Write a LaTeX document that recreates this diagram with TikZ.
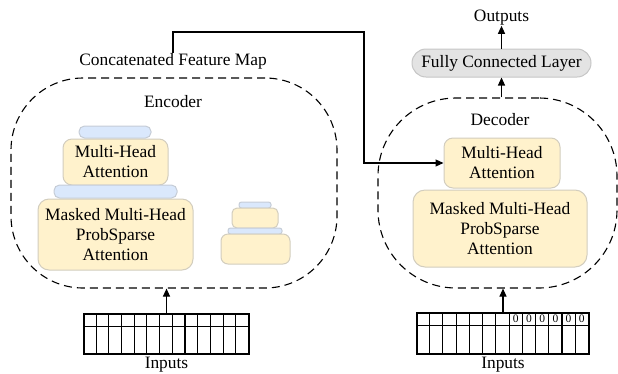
\documentclass[tikz,border=0pt]{standalone}
\usepackage{fontspec}
\setmainfont{Liberation Serif}
\usetikzlibrary{arrows.meta,calc}

\definecolor{attnfill}{HTML}{FFF2CC}
\definecolor{attnline}{HTML}{D2CDBE}
\definecolor{normfill}{HTML}{DAE8FC}
\definecolor{normline}{HTML}{C5CCD6}
\definecolor{fcfill}{HTML}{E3E3E3}
\definecolor{fcline}{HTML}{C6C6C6}

\tikzset{
  every node/.style={font=\fontsize{17.4}{20}\selectfont, inner sep=0pt},
  attnbox/.style={draw=attnline, fill=attnfill, line width=1pt, rounded corners=9pt, align=center},
  normpill/.style={draw=normline, fill=normfill, line width=1pt, rounded corners=5.5pt},
  fcbox/.style={draw=fcline, fill=fcfill, line width=1pt, rounded corners=14pt},
  blockoutline/.style={draw=black, line width=1.1pt, dash pattern=on 8pt off 5pt},
  gridbox/.style={draw=black, line width=1.1pt},
  flow/.style={draw=black, line width=1.1pt, -{Triangle[length=8pt,width=7pt]}},
  zero/.style={font=\fontsize{11.5}{11.5}\selectfont},
}

\begin{document}
\begin{tikzpicture}[x=1pt,y=-1pt]
\useasboundingbox (0,0) rectangle (618,373);

% dashed outlines of the two blocks
\node[blockoutline, rounded corners=72pt, minimum width=326pt, minimum height=210pt] (enc) at (174,183) {};
\node[blockoutline, rounded corners=78pt, minimum width=239pt, minimum height=190pt] (dec) at (497.5,193) {};

\node (enclabel) at (173,102) {Encoder};
\node (declabel) at (500,120) {Decoder};

% encoder stack
\node[normpill, minimum width=72pt, minimum height=12pt] (ep1) at (115,132) {};
\node[attnbox, minimum width=105pt, minimum height=46pt] (emha) at (115.5,162) {Multi-Head\\Attention};
\node[normpill, minimum width=123pt, minimum height=13pt] (ep2) at (115.5,191.5) {};
\node[attnbox, rounded corners=11pt, minimum width=155pt, minimum height=71pt] (emask) at (115.5,234.5) {Masked Multi-Head\\ProbSparse\\Attention};

% second, smaller encoder stack
\node[normpill, rounded corners=2.5pt, minimum width=32pt, minimum height=6pt] (sp1) at (255,205) {};
\node[attnbox, rounded corners=5pt, minimum width=46pt, minimum height=20pt] (sb1) at (255,218) {};
\node[normpill, rounded corners=2.5pt, minimum width=54pt, minimum height=6pt] (sp2) at (255,231) {};
\node[attnbox, rounded corners=7pt, minimum width=69pt, minimum height=30pt] (sb2) at (255.5,249) {};

% decoder stack
\node[attnbox, minimum width=116pt, minimum height=50pt] (dmha) at (502,163) {Multi-Head\\Attention};
\node[attnbox, rounded corners=12pt, minimum width=174pt, minimum height=77pt] (dmask) at (500,228.5) {Masked Multi-Head\\ProbSparse\\Attention};

% output head
\node[fcbox, minimum width=179pt, minimum height=28pt] (fc) at (501.5,63) {Fully Connected Layer};
\node (out) at (501.5,18) {Outputs};

% encoder input grid
\node[gridbox, minimum width=165pt, minimum height=40pt] (egrid) at (166.5,334) {};
\draw[line width=1.1pt] ($(egrid.north west)+(0,13)$) -- ($(egrid.north east)+(0,13)$);
\foreach \i in {1,...,12}
  \draw[line width=1.1pt] ($(egrid.north west)+(\i*165/13,0)$) -- ($(egrid.south west)+(\i*165/13,0)$);
\node[anchor=north] (ein) at ($(egrid.south)+(0,2)$) {Inputs};

% decoder input grid, padded with zeros
\node[gridbox, minimum width=172pt, minimum height=41pt] (dgrid) at (503,333.5) {};
\draw[line width=1.1pt] ($(dgrid.north west)+(0,13)$) -- ($(dgrid.north east)+(0,13)$);
\foreach \i in {1,...,12}
  \draw[line width=1.1pt] ($(dgrid.north west)+(\i*172/13,0)$) -- ($(dgrid.south west)+(\i*172/13,0)$);
\foreach \i in {7,...,12}
  \node[zero] (z\i) at ($(dgrid.north west)+(\i*172/13+86/13,6.5)$) {0};
\node[anchor=north] (din) at ($(dgrid.south)+(0,2)$) {Inputs};

% feature map label and its link into the decoder
\node (cfm) at (173,61) {Concatenated Feature Map};
\coordinate (c1) at (173,32);
\coordinate (c2) at (364,32);
\coordinate (c3) at (364,163);
\draw[flow] (cfm.north) -- (c1) -- (c2) -- (c3) -- (dmha.west);

% vertical data flow
\draw[flow] (egrid.north) -- (egrid.north |- enc.south);
\draw[flow] (dgrid.north) -- (dgrid.north |- dec.south);
\draw[flow] (fc.south |- dec.north) -- (fc.south);
\draw[flow] (fc.north) -- (out.south);
\end{tikzpicture}
\end{document}
